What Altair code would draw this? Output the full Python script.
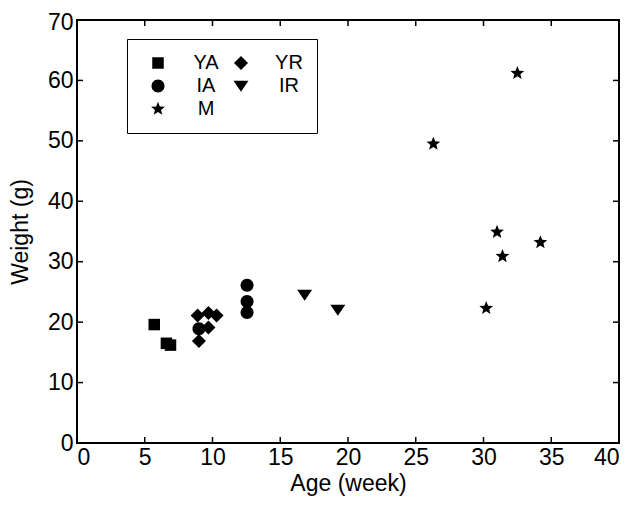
import altair as alt
import pandas as pd

# ---- data ----
ya_age = [5.7, 6.6, 6.9]
ya_wt = [19.6, 16.5, 16.2]
yr_age = [8.9, 9.7, 10.3, 9.7, 9.0]
yr_wt = [21.1, 21.5, 21.1, 19.1, 16.9]
ia_age = [9.0, 12.55, 12.55, 12.55]
ia_wt = [18.9, 26.1, 23.4, 21.6]
ir_age = [16.8, 19.25]
ir_wt = [24.5, 22.0]
m_age = [26.3, 30.2, 31.0, 31.4, 32.5, 34.2]
m_wt = [49.5, 22.3, 34.9, 30.9, 61.2, 33.2]

# legend order (filled column by column): YA, IA, M | YR, IR
groups = ["YA", "IA", "M", "YR", "IR"]
SQUARE = "M-1.15,-1.15H1.15V1.15H-1.15Z"
DIAMOND = "M0,-1.4L1.4,0L0,1.4L-1.4,0Z"
CIRCLE = "M-1.3,0A1.3,1.3,0,1,0,1.3,0A1.3,1.3,0,1,0,-1.3,0Z"
TRIDOWN = "M-1.5,-1.05L1.5,-1.05L0,1.15Z"
STAR = ("M0,-1.45L0.37,-0.51L1.38,-0.45L0.6,0.19L0.85,1.17L0,0.62L-0.85,1.17"
        "L-0.6,0.19L-1.38,-0.45L-0.37,-0.51Z")
shapes = [SQUARE, CIRCLE, STAR, DIAMOND, TRIDOWN]

x_ticks = [5, 10, 15, 20, 25, 30, 35]
y_ticks = [10, 20, 30, 40, 50, 60]
x_labels = [0, 5, 10, 15, 20, 25, 30, 35, 40]
y_labels = [0, 10, 20, 30, 40, 50, 60, 70]

rows = []
for g, a, w in [("YA", ya_age, ya_wt), ("YR", yr_age, yr_wt), ("IA", ia_age, ia_wt),
                ("IR", ir_age, ir_wt), ("M", m_age, m_wt)]:
    for ai, wi in zip(a, w):
        rows.append({"age": ai, "weight": wi, "group": g})
df = pd.DataFrame(rows)

W, H = 542, 423
FONT = "Liberation Sans"

xscale = alt.Scale(domain=[0, 40], nice=False, zero=False)
yscale = alt.Scale(domain=[0, 70], nice=False, zero=False)
axis_x = alt.Axis(values=x_labels, title="Age (week)", labelPadding=3, titlePadding=3)
axis_y = alt.Axis(values=y_labels, title="Weight (g)", labelPadding=4, titlePadding=15,
                  labelOffset={"expr": "datum.value == 70 ? 2 : 0"})


def X():
    return alt.X("age:Q", scale=xscale, axis=axis_x)


def Y():
    return alt.Y("weight:Q", scale=yscale, axis=axis_y)


points = alt.Chart(df).mark_point(filled=True, opacity=1, color="black", strokeWidth=0, size=100).encode(
    x=X(), y=Y(),
    shape=alt.Shape("group:N", scale=alt.Scale(domain=groups, range=shapes),
                    legend=alt.Legend(orient="none", legendX=50, legendY=19, columns=2, title=None,
                                      strokeColor="black", fillColor="white", padding=14,
                                      labelFont=FONT, labelFontSize=20, labelColor="black",
                                      labelAlign="center", labelOffset=38, symbolOffset=7,
                                      rowPadding=3, columnPadding=5, symbolSize=100,
                                      symbolFillColor="black", symbolStrokeColor="black",
                                      symbolStrokeWidth=0)),
)

xt = pd.DataFrame({"age": x_ticks})
yt = pd.DataFrame({"weight": y_ticks})

bot = alt.Chart(xt).mark_rule(color="black", strokeWidth=1.5).encode(
    x=X(), y=alt.value(H), y2=alt.value(H - 6))
top = alt.Chart(xt).mark_rule(color="black", strokeWidth=1.5).encode(
    x=X(), y=alt.value(0), y2=alt.value(6))
left = alt.Chart(yt).mark_rule(color="black", strokeWidth=1.5).encode(
    y=Y(), x=alt.value(0), x2=alt.value(6))
right = alt.Chart(yt).mark_rule(color="black", strokeWidth=1.5).encode(
    y=Y(), x=alt.value(W), x2=alt.value(W - 6))

chart = alt.layer(bot, top, left, right, points).properties(
    width=W, height=H,
    autosize=alt.AutoSizeParams(type="none"),
    padding={"left": 69, "top": 12, "right": 15, "bottom": 55},
).configure_view(stroke="black", strokeWidth=2).configure_axis(
    domain=False, ticks=False, grid=False,
    labelFont=FONT, labelFontSize=23, labelColor="black",
    titleFont=FONT, titleFontSize=23, titleFontWeight="normal", titleColor="black",
)

chart.save("out.html", embed_options={"renderer": "svg", "actions": False})
